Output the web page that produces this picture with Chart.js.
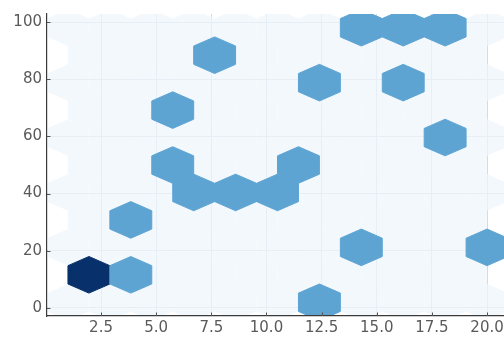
<!DOCTYPE html>
<html>
<head>
<meta charset="utf-8">
<script src="https://cdn.jsdelivr.net/npm/chart.js@4"></script>
<style>
    html, body { margin: 0; padding: 0; background: #fff; overflow: hidden; }
    canvas { display: block; }
</style>
</head>
<body>
<canvas id="hexChart" width="510" height="343"></canvas>
<script>
    // Hex lattice A (centres) and its counts, rows bottom to top
    const colsA = [1.0, 2.9, 4.8, 6.7, 8.6, 10.5, 12.4, 14.3, 16.2, 18.1, 20.0];
    const rowsA = [2.0, 21.2, 40.4, 59.6, 78.8, 98.0];
    const countsA = [
        [0, 0, 0, 0, 0, 0, 1, 0, 0, 0, 0],
        [0, 0, 0, 0, 0, 0, 0, 1, 0, 0, 1],
        [0, 0, 0, 1, 1, 1, 0, 0, 0, 0, 0],
        [0, 0, 0, 0, 0, 0, 0, 0, 0, 1, 0],
        [0, 0, 0, 0, 0, 0, 1, 0, 1, 0, 0],
        [0, 0, 0, 0, 0, 0, 0, 1, 1, 1, 0]
    ];

    // Hex lattice B (offset half a cell)
    const colsB = [1.95, 3.85, 5.75, 7.65, 9.55, 11.45, 13.35, 15.25, 17.15, 19.05];
    const rowsB = [11.6, 30.8, 50.0, 69.2, 88.4];
    const countsB = [
        [2, 1, 0, 0, 0, 0, 0, 0, 0, 0],
        [0, 1, 0, 0, 0, 0, 0, 0, 0, 0],
        [0, 0, 1, 0, 0, 1, 0, 0, 0, 0],
        [0, 0, 1, 0, 0, 0, 0, 0, 0, 0],
        [0, 0, 0, 1, 0, 0, 0, 0, 0, 0]
    ];

    const xTicks = [2.5, 5.0, 7.5, 10.0, 12.5, 15.0, 17.5, 20.0];
    const yTicks = [0, 20, 40, 60, 80, 100];

    // cell size in data units
    const cellW = 1.9;
    const cellH = 19.2;

    // colour by count (Blues)
    const countColors = ['rgba(238,245,252,0.72)', '#5ea4d3', '#08306b'];

    function latticePoints(cols, rows, counts) {
        const pts = [];
        rows.forEach((y, j) => {
            cols.forEach((x, i) => {
                pts.push({ x: x, y: y, c: counts[j][i] });
            });
        });
        return pts;
    }

    const allCells = latticePoints(colsA, rowsA, countsA).concat(latticePoints(colsB, rowsB, countsB));
    const emptyCells = allCells.filter(p => p.c === 0);
    const filledCells = allCells.filter(p => p.c > 0);

    const hexPlugin = {
        id: 'hexPlugin',
        beforeDatasetsDraw(chart) {
            const ctx = chart.ctx;
            const xs = chart.scales.x, ys = chart.scales.y;
            const area = chart.chartArea;
            const hw = Math.abs(xs.getPixelForValue(cellW / 2) - xs.getPixelForValue(0));
            const hh = Math.abs(ys.getPixelForValue(cellH / 3) - ys.getPixelForValue(0));
            ctx.save();
            ctx.beginPath();
            ctx.rect(area.left + 1, area.top, area.right - area.left, area.bottom - area.top - 1);
            ctx.clip();
            chart.data.datasets.forEach((ds, di) => {
                const meta = chart.getDatasetMeta(di);
                meta.data.forEach((el, i) => {
                    const col = countColors[ds.data[i].c];
                    const cx = el.x, cy = el.y;
                    ctx.beginPath();
                    ctx.moveTo(cx, cy - hh);
                    ctx.lineTo(cx + hw, cy - hh / 2);
                    ctx.lineTo(cx + hw, cy + hh / 2);
                    ctx.lineTo(cx, cy + hh);
                    ctx.lineTo(cx - hw, cy + hh / 2);
                    ctx.lineTo(cx - hw, cy - hh / 2);
                    ctx.closePath();
                    ctx.fillStyle = col;
                    ctx.fill();
                    if (ds.data[i].c > 0) {
                        ctx.strokeStyle = col;
                        ctx.lineWidth = 1;
                        ctx.stroke();
                    }
                });
            });
            ctx.restore();
        },
        afterDraw(chart) {
            // inward tick marks
            const ctx = chart.ctx;
            const area = chart.chartArea;
            ctx.save();
            ctx.strokeStyle = '#555';
            ctx.lineWidth = 1;
            chart.scales.x.ticks.forEach((t, i) => {
                const px = Math.round(chart.scales.x.getPixelForTick(i)) + 0.5;
                ctx.beginPath();
                ctx.moveTo(px, area.bottom);
                ctx.lineTo(px, area.bottom - 3.5);
                ctx.stroke();
            });
            chart.scales.y.ticks.forEach((t, i) => {
                const py = Math.round(chart.scales.y.getPixelForTick(i)) + 0.5;
                ctx.beginPath();
                ctx.moveTo(area.left, py);
                ctx.lineTo(area.left + 3.5, py);
                ctx.stroke();
            });
            ctx.restore();
        }
    };

    const tickFont = { family: 'DejaVu Sans', size: 15 };

    new Chart(document.getElementById('hexChart'), {
        type: 'scatter',
        data: {
            datasets: [
                { label: 'empty', data: emptyCells, pointRadius: 0, pointHoverRadius: 0 },
                { label: 'counts', data: filledCells, pointRadius: 0, pointHoverRadius: 0 }
            ]
        },
        options: {
            responsive: false,
            animation: false,
            layout: { padding: { top: 11, right: 2, left: 0, bottom: 0 } },
            plugins: { legend: { display: false }, tooltip: { enabled: false } },
            scales: {
                x: {
                    type: 'linear',
                    min: 0.05,
                    max: 20.95,
                    afterBuildTicks: s => { s.ticks = xTicks.map(v => ({ value: v })); },
                    afterFit: s => { s.height = 27; },
                    ticks: {
                        callback: v => Number(v).toFixed(1),
                        font: tickFont,
                        color: '#5a5a5a',
                        padding: 3,
                        maxRotation: 0,
                        autoSkip: false
                    },
                    grid: { color: '#d3dbe5', drawTicks: false },
                    border: { color: '#3a3a3a', width: 1.2 }
                },
                y: {
                    type: 'linear',
                    min: -2.8,
                    max: 102.8,
                    afterBuildTicks: s => { s.ticks = yTicks.map(v => ({ value: v })); },
                    afterFit: s => { s.width = 47; },
                    ticks: {
                        callback: v => String(v),
                        font: tickFont,
                        color: '#5a5a5a',
                        padding: 5,
                        autoSkip: false
                    },
                    grid: { color: '#d3dbe5', drawTicks: false },
                    border: { color: '#3a3a3a', width: 1.2 }
                }
            }
        },
        plugins: [hexPlugin]
    });
</script>
</body>
</html>
